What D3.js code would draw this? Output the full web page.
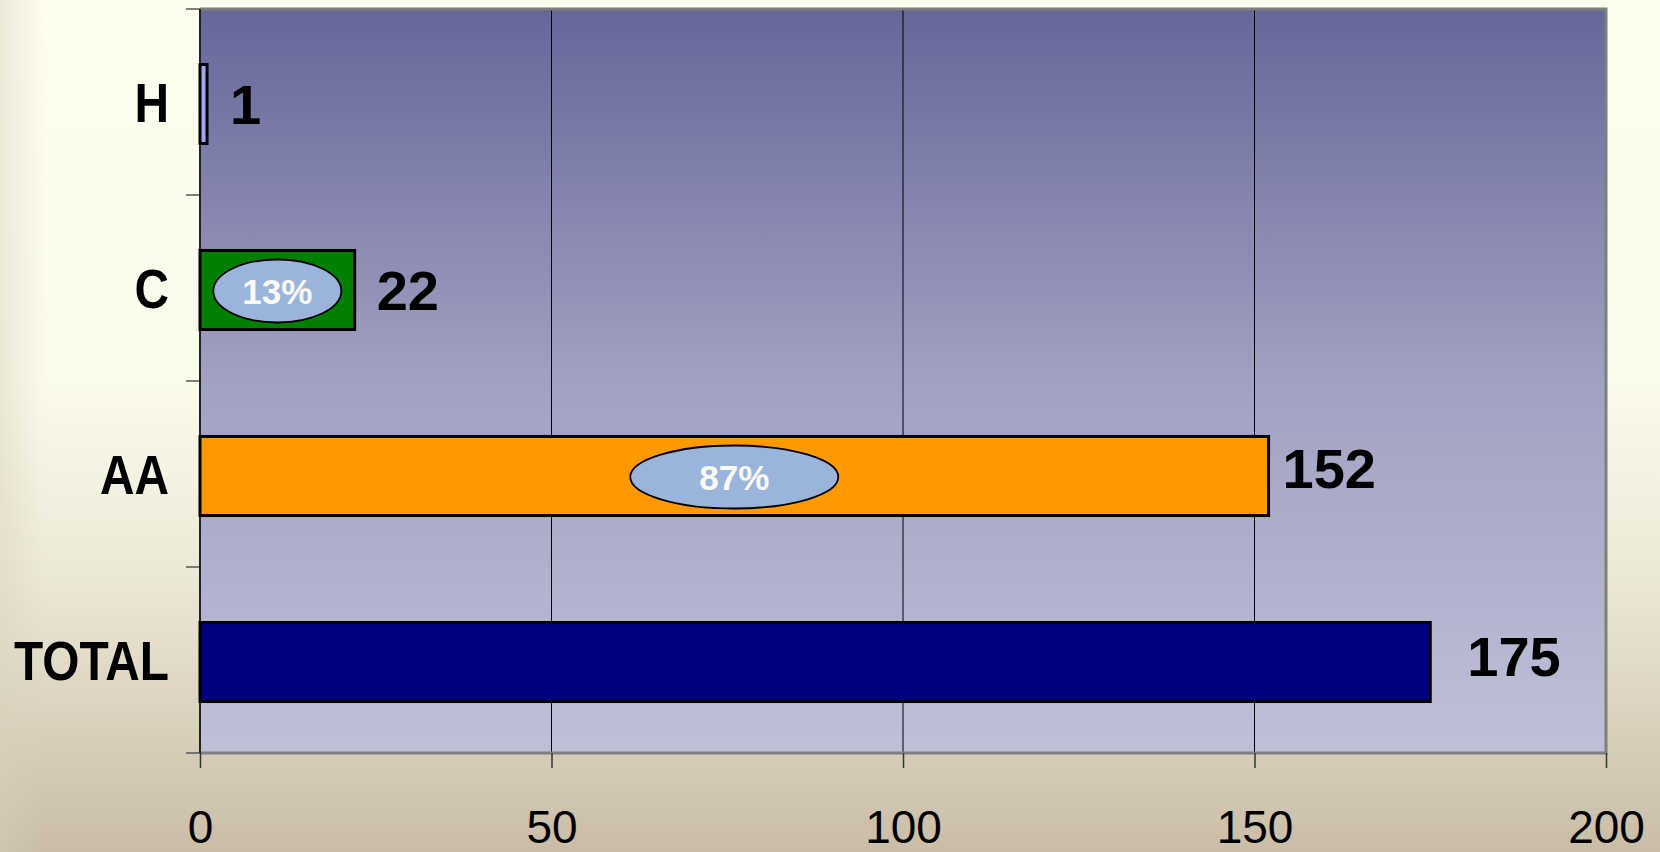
<!DOCTYPE html>
<html>
<head>
<meta charset="utf-8">
<script src="https://cdn.jsdelivr.net/npm/d3@7"></script>
<style>
  html, body { margin: 0; padding: 0; overflow: hidden; }
  svg { display: block; }
  text { font-family: Arial, "Liberation Sans", sans-serif; }
</style>
</head>
<body>
<svg id="chart" width="1660" height="852"></svg>
<script>
// ---- data ----
const categories = ["H", "C", "AA", "TOTAL"];
const values = [1, 22, 152, 175];
const barColors = ["#A3A6F2", "#008000", "#FF9900", "#000080"];
const shareLabels = [null, "13%", "87%", null];
const xTicks = [0, 50, 100, 150, 200];

// ---- layout (not data) ----
const W = 1660, H = 852;
const plot = { left: 200, right: 1606, top: 9, bottom: 753 };
const labelGap = [23, 22, 14, 37];
const labelDy = [0, 0, -8, -6];
const ellipseRx = [0, 64, 104, 0];
const ellipseRy = 31.5;

const svg = d3.select("#chart");
const defs = svg.append("defs");

// page background gradient
const bg = defs.append("linearGradient").attr("id", "pageBg")
  .attr("x1", 0).attr("y1", 0).attr("x2", 0).attr("y2", 1);
[[0, "#FEFEEF"], [0.45, "#FBFBEA"], [0.68, "#ECE8D6"], [0.85, "#DAD1BD"], [1, "#C9BDA7"]]
  .forEach(([o, c]) => bg.append("stop").attr("offset", o).attr("stop-color", c));

const side = defs.append("linearGradient").attr("id", "sideBg")
  .attr("x1", 0).attr("y1", 0).attr("x2", 1).attr("y2", 0);
side.append("stop").attr("offset", 0).attr("stop-color", "#D8D2BC").attr("stop-opacity", 0.45);
side.append("stop").attr("offset", 1).attr("stop-color", "#D8D2BC").attr("stop-opacity", 0);

const pg = defs.append("linearGradient").attr("id", "plotBg")
  .attr("x1", 0).attr("y1", 0).attr("x2", 0).attr("y2", 1);
[[0, "#66669A"], [0.5, "#A1A1C2"], [1, "#BFC0D8"]]
  .forEach(([o, c]) => pg.append("stop").attr("offset", o).attr("stop-color", c));

svg.append("rect").attr("width", W).attr("height", H).attr("fill", "url(#pageBg)");
svg.append("rect").attr("width", 45).attr("height", H).attr("fill", "url(#sideBg)");

// scales
const x = d3.scaleLinear().domain([0, 200]).range([plot.left, plot.right]);
const y = d3.scaleBand().domain(categories).range([plot.top, plot.bottom])
  .paddingInner(0.575).paddingOuter(0.2875);

// plot area
svg.append("rect")
  .attr("x", plot.left).attr("y", plot.top)
  .attr("width", plot.right - plot.left).attr("height", plot.bottom - plot.top)
  .attr("fill", "url(#plotBg)");

// gridlines
svg.append("g").selectAll("line").data(xTicks.filter(t => t > 0 && t < 200)).join("line")
  .attr("x1", d => x(d)).attr("x2", d => x(d))
  .attr("y1", plot.top).attr("y2", plot.bottom)
  .attr("stroke", "#000").attr("stroke-width", 1);

// plot border (top/right/bottom gray)
svg.append("path")
  .attr("d", `M${plot.left},${plot.top}H${plot.right}V${plot.bottom}H${plot.left}`)
  .attr("fill", "none").attr("stroke", "#7F7F7F").attr("stroke-width", 3);

// x axis
const xAxis = d3.axisBottom(x).tickValues(xTicks).tickSize(15).tickPadding(60).tickFormat(d3.format("d"));
const gx = svg.append("g").attr("transform", `translate(0,${plot.bottom})`).call(xAxis);
gx.select(".domain").remove();
gx.selectAll(".tick line").attr("stroke", "#333").attr("stroke-width", 1.5);
gx.selectAll(".tick text")
  .attr("font-size", 46).attr("fill", "#000")
  .attr("dy", 0).attr("y", 843 - plot.bottom)
  .style("font-family", 'Arial, "Liberation Sans", sans-serif');

// y axis: line + ticks at band boundaries
const step = y.step();
const boundaries = d3.range(categories.length + 1).map(i => plot.top + i * step);
svg.append("g").selectAll("line").data(boundaries).join("line")
  .attr("x1", plot.left - 14).attr("x2", plot.left)
  .attr("y1", d => d).attr("y2", d => d)
  .attr("stroke", "#555").attr("stroke-width", 1.5);
svg.append("line")
  .attr("x1", plot.left).attr("x2", plot.left)
  .attr("y1", plot.top).attr("y2", plot.bottom)
  .attr("stroke", "#222").attr("stroke-width", 2);

// category labels
const bandCenter = c => y(c) + y.bandwidth() / 2;
svg.append("g").selectAll("text").data(categories).join("text")
  .attr("transform", d => `translate(${plot.left - 31},${bandCenter(d) + 20}) scale(0.87,1)`)
  .attr("text-anchor", "end")
  .attr("font-size", 55).attr("font-weight", "bold").attr("fill", "#000")
  .text(d => d);

// bars
const rows = categories.map((c, i) => ({ c, v: values[i], color: barColors[i], share: shareLabels[i], i }));
const barOffset = 2;
svg.append("g").selectAll("rect").data(rows).join("rect")
  .attr("x", x(0))
  .attr("y", d => y(d.c) + barOffset)
  .attr("width", d => x(d.v) - x(0))
  .attr("height", y.bandwidth())
  .attr("fill", d => d.color)
  .attr("stroke", "#000").attr("stroke-width", 3);

// value labels
svg.append("g").selectAll("text").data(rows).join("text")
  .attr("x", d => x(d.v) + labelGap[d.i])
  .attr("y", d => bandCenter(d.c) + barOffset + 20 + labelDy[d.i])
  .attr("font-size", 56).attr("font-weight", "bold").attr("fill", "#000")
  .text(d => d.v);

// share ellipses
const shares = rows.filter(d => d.share);
const eg = svg.append("g").selectAll("g").data(shares).join("g")
  .attr("transform", d => `translate(${x(d.v / 2)},${bandCenter(d.c) + barOffset + 1})`);
eg.append("ellipse")
  .attr("rx", d => ellipseRx[d.i]).attr("ry", ellipseRy)
  .attr("fill", "#9BB4DB").attr("stroke", "#000").attr("stroke-width", 1.8);
eg.append("text")
  .attr("text-anchor", "middle").attr("y", 13)
  .attr("font-size", 35).attr("font-weight", "bold").attr("fill", "#FAFAF0")
  .text(d => d.share);
</script>
</body>
</html>
